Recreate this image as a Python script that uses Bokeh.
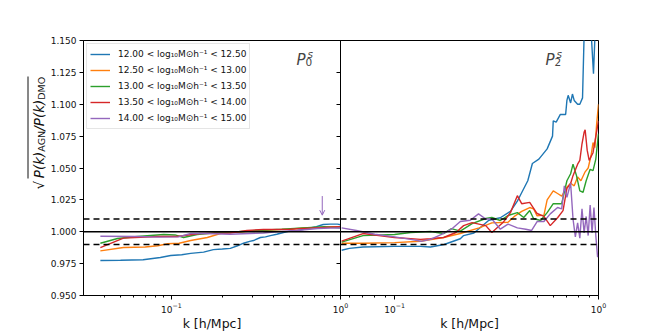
import math
from bokeh.plotting import figure
from bokeh.layouts import row
from bokeh.models import (Span, Label, Legend, LegendItem, FixedTicker,
                          PrintfTickFormatter, CustomJSTickFormatter, Arrow, OpenHead)
from bokeh.embed import file_html
from bokeh.resources import INLINE

# ---------------- data ----------------
mass_bins = [
    "12.00 < log₁₀M⊙h⁻¹ < 12.50",
    "12.50 < log₁₀M⊙h⁻¹ < 13.00",
    "13.00 < log₁₀M⊙h⁻¹ < 13.50",
    "13.50 < log₁₀M⊙h⁻¹ < 14.00",
    "14.00 < log₁₀M⊙h⁻¹ < 15.00",
]
colors = ["#1f77b4", "#ff7f0e", "#2ca02c", "#d62728", "#9467bd"]

# monopole P0
p0_k_1 = [0.038, 0.05, 0.068, 0.086, 0.099, 0.115, 0.13, 0.155, 0.177, 0.2, 0.223, 0.246, 0.267, 0.29,
          0.306, 0.336, 0.36, 0.385, 0.42, 0.46, 0.5, 0.556, 0.6, 0.66, 0.72, 0.79, 0.87, 0.96, 1.0]
p0_v_1 = [0.9775, 0.9776, 0.978, 0.9798, 0.9814, 0.982, 0.983, 0.984, 0.986, 0.9865, 0.987, 0.989, 0.991, 0.9925,
          0.9931, 0.9955, 0.996, 0.997, 0.998, 0.9994, 1.0005, 1.001, 1.0018, 1.003, 1.004, 1.0057, 1.006, 1.006, 1.0055]
p0_k_2 = [0.038, 0.052, 0.07, 0.083, 0.095, 0.111, 0.13, 0.163, 0.195, 0.22, 0.26, 0.3, 0.35, 0.4, 0.5,
          0.6, 0.7, 0.8, 0.9, 1.0]
p0_v_2 = [0.985, 0.9876, 0.988, 0.989, 0.9906, 0.991, 0.9931, 0.9955, 0.9986, 0.9995, 0.9998, 1.0008, 1.001,
          1.0015, 1.002, 1.003, 1.003, 1.0035, 1.004, 1.004]
p0_k_3 = [0.038, 0.048, 0.063, 0.09, 0.105, 0.118, 0.142, 0.187, 0.25, 0.32, 0.45, 0.6, 0.8, 1.0]
p0_v_3 = [0.991, 0.9947, 0.9963, 0.9978, 0.9975, 0.9955, 0.9978, 0.9994, 1.0, 1.001, 1.002, 1.003, 1.004, 1.003]
p0_k_4 = [0.038, 0.052, 0.083, 0.108, 0.148, 0.223, 0.28, 0.35, 0.5, 0.7, 1.0]
p0_v_4 = [0.9876, 0.995, 0.9963, 0.9963, 0.9986, 0.999, 1.001, 1.0018, 1.002, 1.003, 1.004]
p0_k_5 = [0.038, 0.063, 0.083, 0.11, 0.13, 0.163, 0.223, 0.29, 0.35, 0.42, 0.55, 0.73, 0.96, 1.0]
p0_v_5 = [0.9965, 0.9963, 0.9958, 0.996, 0.9986, 0.9986, 0.998, 0.9986, 0.999, 1.0, 1.001, 1.0025, 1.003, 1.003]

# quadrupole P2
p2_k_1 = [0.055, 0.06, 0.07, 0.1, 0.134, 0.15, 0.175, 0.21, 0.218, 0.245, 0.29, 0.33, 0.37, 0.40, 0.415,
          0.45, 0.474, 0.51, 0.56, 0.595, 0.60, 0.62, 0.65, 0.69, 0.70, 0.71, 0.73, 0.745, 0.76, 0.79,
          0.81, 0.835, 0.85, 0.88, 0.91, 0.945, 0.975, 1.0]
p2_v_1 = [0.9855, 0.987, 0.988, 0.9885, 0.9885, 0.988, 0.990, 0.9945, 0.997, 0.999, 1.009, 1.011, 1.016, 1.024,
          1.029, 1.040, 1.0535, 1.057, 1.065, 1.075, 1.087, 1.086, 1.092, 1.092, 1.103, 1.107, 1.101, 1.108,
          1.103, 1.100, 1.100, 1.105, 1.154, 1.20, 1.17, 1.124, 1.18, 1.20]
p2_k_2 = [0.055, 0.07, 0.1, 0.134, 0.174, 0.21, 0.26, 0.30, 0.36, 0.39, 0.42, 0.46, 0.48, 0.50, 0.54, 0.56,
          0.60, 0.63, 0.66, 0.70, 0.73, 0.76, 0.79, 0.82, 0.86, 0.89, 0.92, 0.94, 0.96, 0.98, 1.0]
p2_v_2 = [0.991, 0.991, 0.9915, 0.9926, 0.9955, 0.9986, 1.003, 1.007, 1.0075, 1.0125, 1.016, 1.019, 1.018,
          1.0125, 1.013, 1.025, 1.032, 1.030, 1.028, 1.035, 1.038, 1.036, 1.043, 1.040, 1.047, 1.050, 1.06,
          1.07, 1.066, 1.085, 1.10]
p2_k_3 = [0.055, 0.07, 0.10, 0.12, 0.15, 0.174, 0.19, 0.21, 0.24, 0.28, 0.30, 0.33, 0.36, 0.40, 0.43, 0.46,
          0.48, 0.52, 0.56, 0.60, 0.66, 0.70, 0.73, 0.75, 0.78, 0.81, 0.84, 0.87, 0.91, 0.94, 0.97, 1.0]
p2_v_3 = [0.9918, 0.997, 0.9978, 0.9994, 1.0002, 0.9986, 1.0025, 1.0005, 1.0064, 1.0104, 1.0112, 1.0088,
          1.0127, 1.015, 1.0112, 1.0167, 1.0104, 1.0088, 1.015, 1.022, 1.022, 1.040, 1.0455, 1.053, 1.044,
          1.032, 1.031, 1.040, 1.049, 1.048, 1.057, 1.077]
p2_k_4 = [0.055, 0.07, 0.10, 0.134, 0.15, 0.174, 0.2, 0.218, 0.24, 0.28, 0.30, 0.34, 0.37, 0.40, 0.42, 0.46,
          0.50, 0.54, 0.58, 0.63, 0.67, 0.70, 0.73, 0.75, 0.79, 0.81, 0.83, 0.85, 0.86, 0.88, 0.90, 0.94, 1.0]
p2_v_4 = [0.9926, 0.9986, 0.9955, 0.994, 0.9945, 0.9955, 0.9994, 1.0048, 1.0072, 1.0048, 0.9994, 1.0072,
          1.015, 1.0283, 1.022, 1.023, 1.0143, 1.012, 1.0048, 1.011, 1.0166, 1.034, 1.0378, 1.044, 1.053,
          1.056, 1.069, 1.078, 1.080, 1.064, 1.056, 1.062, 1.087]
p2_k_5 = [0.055, 0.065, 0.08, 0.10, 0.12, 0.135, 0.15, 0.17, 0.19, 0.21, 0.235, 0.258, 0.28, 0.30, 0.33,
          0.36, 0.40, 0.44, 0.47, 0.50, 0.54, 0.58, 0.63, 0.66, 0.68, 0.70, 0.73, 0.75, 0.77, 0.79, 0.81,
          0.83, 0.85, 0.87, 0.89, 0.91, 0.93, 0.95, 0.97, 0.99]
p2_v_5 = [1.003, 1.001, 0.998, 0.996, 0.994, 0.9925, 0.994, 0.998, 1.002, 1.008, 1.009, 1.014, 1.010, 1.010,
          1.002, 1.006, 1.003, 1.002, 1.001, 1.008, 1.008, 1.014, 1.019, 1.018, 1.036, 1.027, 1.038, 1.010,
          0.996, 1.007, 0.995, 1.018, 0.999, 1.012, 0.997, 1.021, 0.999, 1.019, 0.997, 0.980]

p0_series = [(p0_k_1, p0_v_1), (p0_k_2, p0_v_2), (p0_k_3, p0_v_3), (p0_k_4, p0_v_4), (p0_k_5, p0_v_5)]
p2_series = [(p2_k_1, p2_v_1), (p2_k_2, p2_v_2), (p2_k_3, p2_v_3), (p2_k_4, p2_v_4), (p2_k_5, p2_v_5)]

y_ticks = [0.950, 0.975, 1.000, 1.025, 1.050, 1.075, 1.100, 1.125, 1.150]
x_major = [0.1, 1.0]
x_minor_left = [0.03, 0.04, 0.05, 0.06, 0.07, 0.08, 0.09, 0.2, 0.3, 0.4, 0.5, 0.6, 0.7, 0.8, 0.9]
x_minor_right = [0.06, 0.07, 0.08, 0.09, 0.2, 0.3, 0.4, 0.5, 0.6, 0.7, 0.8, 0.9]
ref_solid = 1.0
ref_dashed = [0.99, 1.01]
arrow_k = 0.78
arrow_y = [1.028, 1.013]
x_label = "k [h/Mpc]"

FONT = "DejaVu Sans"


def make_fig(xr, frame_w, left_b, right_b, styles=None):
    kw = dict(x_axis_type="log", x_range=xr, y_range=(0.95, 1.15),
              frame_width=frame_w, frame_height=255,
              min_border_left=left_b, min_border_right=right_b,
              min_border_top=40, min_border_bottom=20,
              output_backend="svg", toolbar_location=None)
    if styles:
        kw["styles"] = styles
    p = figure(**kw)
    p.grid.visible = False
    p.outline_line_color = "black"
    p.outline_line_width = 1
    for ax in (p.xaxis[0], p.yaxis[0]):
        ax.axis_line_color = "black"
        ax.major_tick_line_color = "black"
        ax.minor_tick_line_color = "black"
        ax.major_tick_out = 4
        ax.major_tick_in = 0
        ax.minor_tick_out = 2
        ax.minor_tick_in = 0
        ax.major_label_text_font = FONT
        ax.major_label_text_font_size = "9px"
        ax.major_label_text_color = "#111111"
        ax.major_label_standoff = 3
    p.xaxis.axis_label = x_label
    p.xaxis.axis_label_text_font = FONT
    p.xaxis.axis_label_text_font_size = "12.5px"
    p.xaxis.axis_label_text_font_style = "normal"
    p.xaxis.axis_label_text_color = "#111111"
    p.xaxis.axis_label_standoff = 0
    p.yaxis.ticker = FixedTicker(ticks=y_ticks, minor_ticks=[])
    p.yaxis.formatter = PrintfTickFormatter(format="%.3f")
    for loc, dash, w in [(ref_solid, "solid", 1.4)] + [(d, "6 4", 1.3) for d in ref_dashed]:
        p.add_layout(Span(location=loc, dimension="width", line_color="black",
                          line_width=w, line_dash=dash))
    return p


# ---------------- y label strip ----------------
YH = 300
ylab = figure(width=46, height=YH, min_border=0, x_axis_location=None, y_axis_location=None,
              toolbar_location=None, output_backend="svg", outline_line_color=None)
ylab.grid.visible = False
ang = math.pi / 2
ylab_parts = [
    ("√", 227.0, 38, "13.5px", "normal"),
    ("P(k)", 215.7, 38, "13.5px", "italic"),
    ("AGN", 189.2, 40.5, "9.5px", "normal"),
    ("/P(k)", 168.2, 38, "13.5px", "italic"),
    ("DMO", 137.2, 40.5, "9.5px", "normal"),
]
for txt, page_y, bx, fs, style in ylab_parts:
    ylab.add_layout(Label(x=bx, y=YH - page_y, x_units="screen", y_units="screen", text=txt, angle=ang,
                          text_font=FONT, text_font_size=fs, text_font_style=style,
                          text_align="left", text_baseline="alphabetic", text_color="#111111"))
ylab.add_layout(Arrow(end=None, start=None, x_start=27.5, y_start=YH - 216, x_end=27.5, y_end=YH - 114,
                      start_units="screen", end_units="screen", line_color="#111111", line_width=1))

# ---------------- left panel (P0) ----------------
p1 = make_fig((0.0302, 1.0), 257, 37, 12)
p1.xaxis.ticker = FixedTicker(ticks=x_major, minor_ticks=x_minor_left)
items = []
for (k, v), c, lab in zip(p0_series, colors, mass_bins):
    r = p1.line(k, v, line_color=c, line_width=1.4)
    items.append(LegendItem(label=lab, renderers=[r]))
leg = Legend(items=items, location="top_left", margin=3, padding=3,
             glyph_width=20, glyph_height=14, label_height=14, label_standoff=8, spacing=2,
             label_text_font=FONT, label_text_font_size="9px", label_text_color="#111111",
             border_line_color="#cccccc", border_line_width=1,
             background_fill_color="white", background_fill_alpha=0.8)
p1.add_layout(leg)

p1.add_layout(Arrow(end=OpenHead(size=5, line_color=colors[4], line_width=1),
                    x_start=arrow_k, y_start=arrow_y[0], x_end=arrow_k, y_end=arrow_y[1],
                    line_color=colors[4], line_width=1))

# panel tag P_0^s
p1.add_layout(Label(x=213, y=236, x_units="screen", y_units="screen", text="P",
                    text_font=FONT, text_font_style="italic", text_font_size="15px",
                    text_baseline="alphabetic", text_align="left"))
p1.add_layout(Label(x=222, y=233.5, x_units="screen", y_units="screen", text="0",
                    text_font=FONT, text_font_size="10.5px",
                    text_baseline="alphabetic", text_align="left"))
p1.add_layout(Label(x=224, y=242, x_units="screen", y_units="screen", text="s",
                    text_font=FONT, text_font_style="italic", text_font_size="10.5px",
                    text_baseline="alphabetic", text_align="left"))

# ---------------- right panel (P2) ----------------
p2 = make_fig((0.0543, 1.0), 258, 12, 40, styles={"margin-left": "-24px"})
p2.xaxis.ticker = FixedTicker(ticks=x_major, minor_ticks=x_minor_right)
p2.yaxis.formatter = CustomJSTickFormatter(code="return ''")
p2.border_fill_alpha = 0
p2.background_fill_alpha = 0
for (k, v), c in zip(p2_series, colors):
    p2.line(k, v, line_color=c, line_width=1.4)

p2.add_layout(Label(x=205, y=236, x_units="screen", y_units="screen", text="P",
                    text_font=FONT, text_font_style="italic", text_font_size="15px",
                    text_baseline="alphabetic", text_align="left"))
p2.add_layout(Label(x=214, y=233.5, x_units="screen", y_units="screen", text="2",
                    text_font=FONT, text_font_size="10.5px",
                    text_baseline="alphabetic", text_align="left"))
p2.add_layout(Label(x=216, y=242, x_units="screen", y_units="screen", text="s",
                    text_font=FONT, text_font_style="italic", text_font_size="10.5px",
                    text_baseline="alphabetic", text_align="left"))

layout = row(ylab, p1, p2)
open("out.html", "w").write(file_html(layout, INLINE))
